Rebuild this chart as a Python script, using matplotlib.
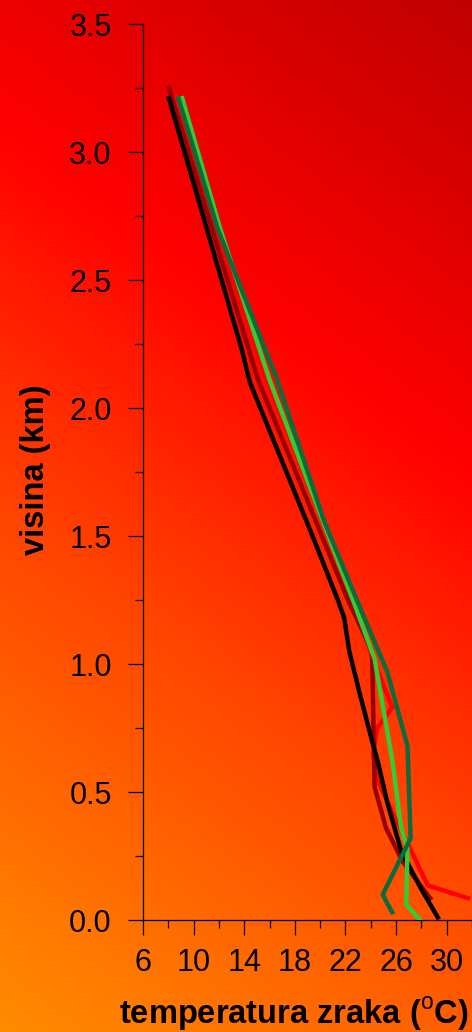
import numpy as np
import matplotlib
matplotlib.use("Agg")
import matplotlib.pyplot as plt
from matplotlib.colors import LinearSegmentedColormap
from matplotlib.ticker import MultipleLocator

plt.rcParams['font.family'] = ['Liberation Sans', 'DejaVu Sans']
plt.rcParams['mathtext.fontset'] = 'custom'
plt.rcParams['mathtext.rm'] = 'Liberation Sans'
plt.rcParams['mathtext.bf'] = 'Liberation Sans:bold'

# profiles: temperature (C) vs height (km)
t_black = [8.05, 13.8, 14.45, 19.4, 21.4, 21.9, 22.3, 23.1, 24.1, 24.55, 25.3, 26.4, 28.0, 29.3]
h_black = [3.21, 2.23, 2.10, 1.50, 1.25, 1.18, 1.05, 0.89, 0.70, 0.62, 0.46, 0.27, 0.12, 0.01]

t_red = [8.6, 15.8, 20.2, 22.6, 24.1, 25.7, 24.5, 24.2, 24.5, 26.0, 27.2, 28.5, 31.7]
h_red = [3.22, 2.11, 1.56, 1.25, 1.03, 0.83, 0.75, 0.65, 0.55, 0.39, 0.27, 0.135, 0.085]

t_dred = [8.05, 15.1, 22.2, 24.1, 24.2, 24.3, 25.2, 26.5, 28.7]
h_dred = [3.25, 2.11, 1.25, 1.05, 0.80, 0.52, 0.36, 0.23, 0.085]

t_lgreen = [9.1, 12.1, 16.0, 20.2, 22.6, 24.3, 25.7, 26.4, 26.9, 26.8, 27.9]
h_lgreen = [3.21, 2.70, 2.11, 1.56, 1.25, 1.02, 0.625, 0.36, 0.28, 0.06, 0.0]

t_dgreen = [8.8, 11.9, 16.6, 20.3, 22.9, 25.3, 26.9, 27.15, 24.95, 25.3, 25.7]
h_dgreen = [3.21, 2.70, 2.11, 1.56, 1.25, 0.97, 0.68, 0.32, 0.10, 0.065, 0.03]

xticks = [6, 10, 14, 18, 22, 26, 30]
yticks = [0.0, 0.5, 1.0, 1.5, 2.0, 2.5, 3.0, 3.5]

fig = plt.figure(figsize=(4.72, 10.32), dpi=100)

# gradient background: orange bottom-left -> red -> dark red top-right
bg = fig.add_axes([0, 0, 1, 1], zorder=-1)
u, v = np.meshgrid(np.linspace(0, 1, 200), np.linspace(0, 1, 400))
s = 0.25 * u + 0.75 * v
cm = LinearSegmentedColormap.from_list("bg", [(0.0, "#ff8c00"), (0.38, "#ff4400"),
                                              (0.66, "#ff0000"), (1.0, "#c00000")])
bg.imshow(s, cmap=cm, origin='lower', extent=[0, 1, 0, 1], aspect='auto', vmin=0, vmax=1)
bg.axis('off')

ax = fig.add_axes([143/472, 1 - 920/1032, 1 - 143/472, (920 - 24)/1032])
ax.patch.set_alpha(0)

lw = 3.2
ax.plot(t_red, h_red, color='#ff0000', lw=lw, zorder=2)
ax.plot(t_dred, h_dred, color='#990000', lw=lw, zorder=3)
ax.plot(t_black, h_black, color='black', lw=lw, zorder=4)
ax.plot(t_lgreen, h_lgreen, color='#33cc33', lw=lw, zorder=5)
ax.plot(t_dgreen, h_dgreen, color='#0b6b3a', lw=lw, zorder=6)

ax.set_xlim(6, 32)
ax.set_ylim(0, 3.5)
ax.set_xticks(xticks)
ax.set_yticks(yticks)
ax.set_yticklabels(["%.1f" % y for y in yticks])
ax.xaxis.set_minor_locator(MultipleLocator(2))
ax.yaxis.set_minor_locator(MultipleLocator(0.25))

for side in ['top', 'right']:
    ax.spines[side].set_visible(False)
for side in ['left', 'bottom']:
    ax.spines[side].set_linewidth(0.9)

ax.tick_params(which='major', length=10.5, width=0.9, labelsize=22, direction='out')
ax.tick_params(which='minor', length=5.5, width=0.9, direction='out')
ax.tick_params(axis='y', which='major', pad=12)
ax.tick_params(axis='x', which='major', pad=10)

ax.set_xlabel(r'temperatura zraka ($^{\mathrm{o}}$C)', fontsize=23.5, fontweight='bold')
ax.xaxis.set_label_coords(0.459, -0.105)
ax.xaxis.label.set_va('center')
ax.set_ylabel('visina (km)', fontsize=23.5, fontweight='bold')
ax.yaxis.set_label_coords(-0.328, 0.502)
ax.yaxis.label.set_va('center')

fig.savefig('out.png', dpi=100)
